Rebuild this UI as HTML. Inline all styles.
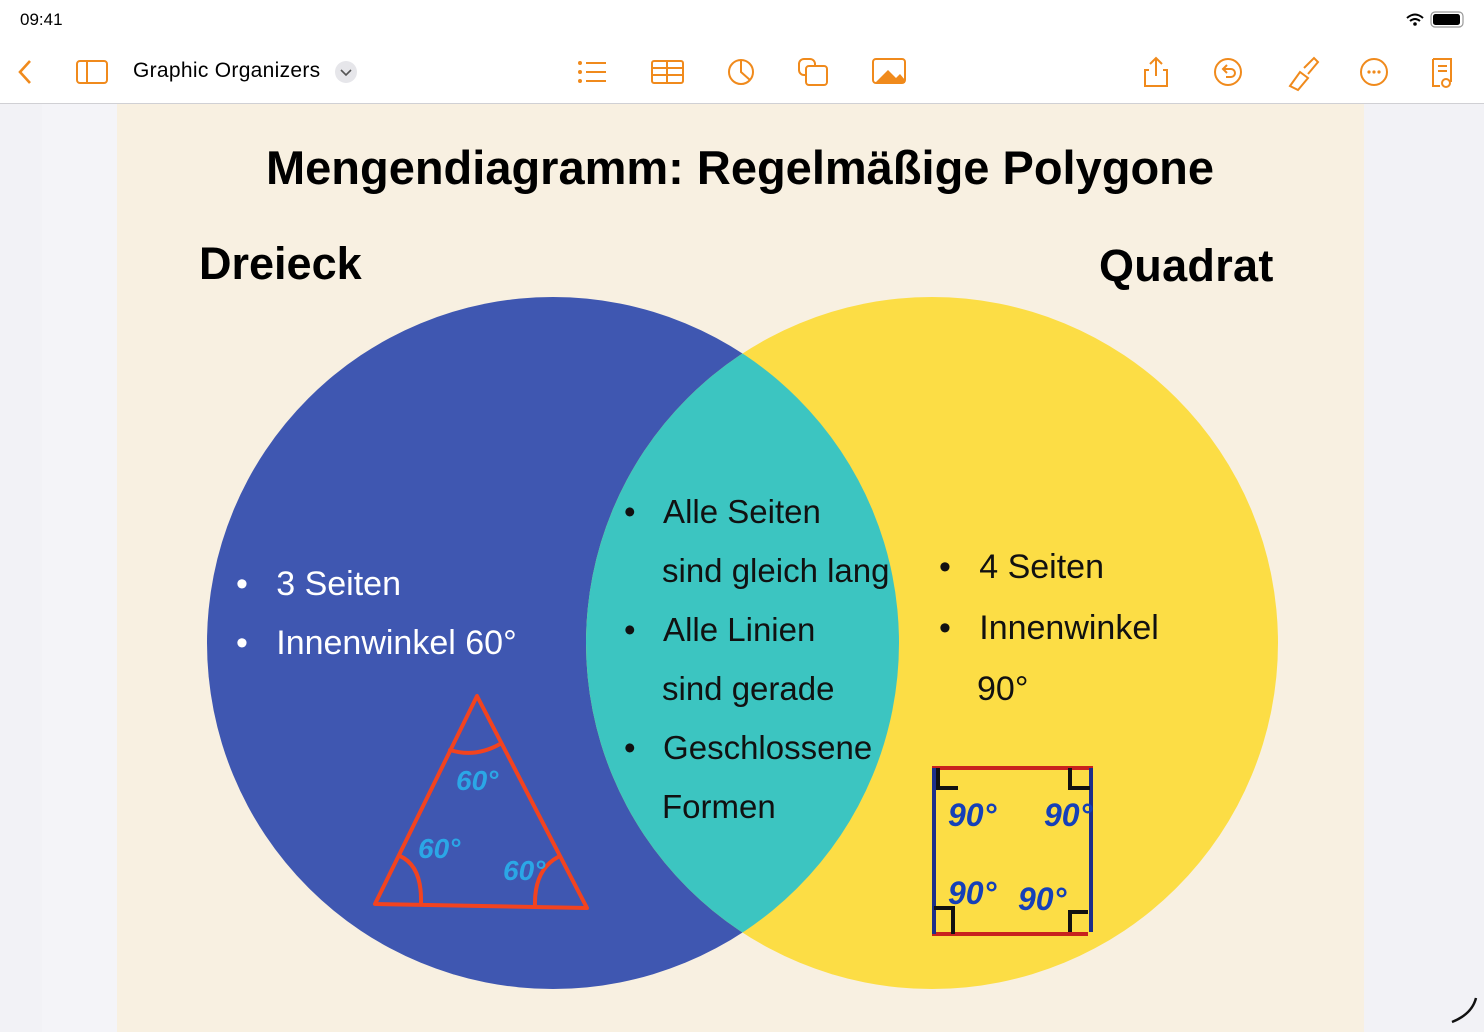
<!DOCTYPE html>
<html><head><meta charset="utf-8"><style>
html,body{margin:0;padding:0;width:1484px;height:1032px;overflow:hidden;background:#f2f2f6;font-family:"Liberation Sans",sans-serif}
.hdr{position:absolute;left:0;top:0;width:1484px;height:103px;background:#fff;border-bottom:1px solid #d0d0d4}
.t{position:absolute;white-space:nowrap}
</style></head><body>
<div class="hdr"></div>
<div class="t" style="left:20px;top:10px;font-size:17px;color:#000">09:41</div>
<svg style="position:absolute;left:0;top:0" width="1484" height="1032">
<path d="M1407 18 q8 -7 16 0 M1410 21 q5 -4 10 0" stroke="#000" stroke-width="2" fill="none"/><circle cx="1415" cy="24" r="1.8" fill="#000"/>
<rect x="1431" y="12" width="32" height="15" rx="4" fill="none" stroke="#999" stroke-width="1.2"/><rect x="1433" y="14" width="27" height="11" rx="2.5" fill="#000"/>
<g stroke="#f08a1c" stroke-width="2" fill="none">
<path d="M30 61 L20 72 L30 83" stroke-width="2.6"/>
<rect x="77" y="61" width="30" height="22" rx="3"/><line x1="87" y1="61" x2="87" y2="83"/>
<line x1="586" y1="63" x2="606" y2="63"/><line x1="586" y1="72" x2="606" y2="72"/><line x1="586" y1="81" x2="606" y2="81"/>
<circle cx="580" cy="63" r="1"/><circle cx="580" cy="72" r="1"/><circle cx="580" cy="81" r="1"/>
<rect x="652" y="61" width="31" height="22" rx="2"/><line x1="652" y1="68" x2="683" y2="68"/><line x1="652" y1="75" x2="683" y2="75"/><line x1="667" y1="61" x2="667" y2="83"/>
<circle cx="741" cy="72" r="12"/><path d="M741 60 V72 L750 80"/>
<rect x="799" y="59" width="16" height="16" rx="5"/><rect x="806" y="66" width="21" height="19" rx="3" fill="#fff"/>
<rect x="873" y="59" width="32" height="24" rx="3"/>
<path d="M1156 58 V76 M1150 64 L1156 58 L1162 64 M1149 70 H1145 V86 H1167 V70 H1163"/>
<circle cx="1228" cy="72" r="13"/><path d="M1224 69 H1231 a4 4 0 0 1 0 8 H1226 M1227 65 L1223 69 L1227 73"/>
<path d="M1290 86 L1300 72 L1308 78 L1298 90 Z M1304 68 L1314 58 L1318 62 L1308 74"/>
<circle cx="1374" cy="72" r="13"/>
<path d="M1433 59 H1451 V82 M1433 59 V86 H1440 M1438 66 H1447 M1438 71 H1447"/><circle cx="1446" cy="83" r="4"/>
</g>
<g fill="#f08a1c"><circle cx="1369" cy="72" r="1.6"/><circle cx="1374" cy="72" r="1.6"/><circle cx="1379" cy="72" r="1.6"/><path d="M876 82 L888 70 L896 78 L900 74 L905 80 V83 H876Z"/></g>
<circle cx="346" cy="72" r="11" fill="#e6e6ea"/><path d="M341 70 L346 75 L351 70" stroke="#555" stroke-width="1.6" fill="none"/>
<rect x="117" y="104" width="1247" height="928" fill="#f8f0e1"/>
<rect x="42" y="104" width="75" height="928" fill="#f4f4f8"/>
<rect x="1364" y="104" width="120" height="928" fill="#f2f2f6"/>
<defs><clipPath id="cl"><circle cx="553" cy="643" r="346"/></clipPath></defs>
<circle cx="553" cy="643" r="346" fill="#3f57b1"/>
<circle cx="932" cy="643" r="346" fill="#fcdd45"/>
<circle cx="932" cy="643" r="346" fill="#3cc5c1" clip-path="url(#cl)"/>
<g stroke="#f2431f" stroke-width="4" fill="none" stroke-linecap="round" stroke-linejoin="round">
<path d="M477 696 L375 904 L587 908 Z"/>
<path d="M450 750 Q475 758 500 744"/>
<path d="M400 856 Q422 866 421 903"/>
<path d="M535 906 Q534 870 558 857"/>
</g>
<g fill="#2ba7e6" font-family="Liberation Sans" font-style="italic" font-weight="bold" font-size="28">
<text x="456" y="790">60°</text><text x="418" y="858">60°</text><text x="503" y="880">60°</text></g>
<g fill="none" stroke-width="4">
<path d="M932 768 H1093 M932 934 H1088" stroke="#c8221d"/>
<path d="M934 768 V934 M1091 768 V932" stroke="#1c2f8a"/>
<path d="M938 768 V788 H958 M1070 768 V788 H1090 M934 908 H953 V934 M1070 932 V912 H1088" stroke="#111"/>
</g>
<g fill="#1540b8" font-family="Liberation Sans" font-style="italic" font-weight="bold" font-size="32">
<text x="948" y="826">90°</text><text x="1044" y="826">90°</text><text x="948" y="904">90°</text><text x="1018" y="910">90°</text></g>
<path d="M1452 1022 Q1472 1014 1476 998" stroke="#111" stroke-width="2.5" fill="none"/>
</svg>
<div class="t" style="left:133px;top:59px;font-size:21px;color:#000;letter-spacing:0.3px">Graphic Organizers</div>
<div class="t" style="left:266px;top:140px;font-size:47px;font-weight:bold;color:#000">Mengendiagramm: Regelmäßige Polygone</div>
<div class="t" style="left:199px;top:238px;font-size:45px;font-weight:bold">Dreieck</div>
<div class="t" style="left:1099px;top:240px;font-size:45px;font-weight:bold;letter-spacing:0.3px">Quadrat</div>
<div class="t" style="left:236px;top:555px;font-size:34px;color:#fff;line-height:59px">•&nbsp;&nbsp;&nbsp;3 Seiten<br>•&nbsp;&nbsp;&nbsp;Innenwinkel 60°</div>
<div class="t" style="left:624px;top:482px;font-size:33px;color:#111;line-height:59px">•&nbsp;&nbsp;&nbsp;Alle Seiten<br><span style="padding-left:38px">sind gleich lang</span><br>•&nbsp;&nbsp;&nbsp;Alle Linien<br><span style="padding-left:38px">sind gerade</span><br>•&nbsp;&nbsp;&nbsp;Geschlossene<br><span style="padding-left:38px">Formen</span></div>
<div class="t" style="left:939px;top:537px;font-size:34px;color:#111;line-height:61px">•&nbsp;&nbsp;&nbsp;4 Seiten<br>•&nbsp;&nbsp;&nbsp;Innenwinkel<br><span style="padding-left:38px">90°</span></div>
</body></html>
